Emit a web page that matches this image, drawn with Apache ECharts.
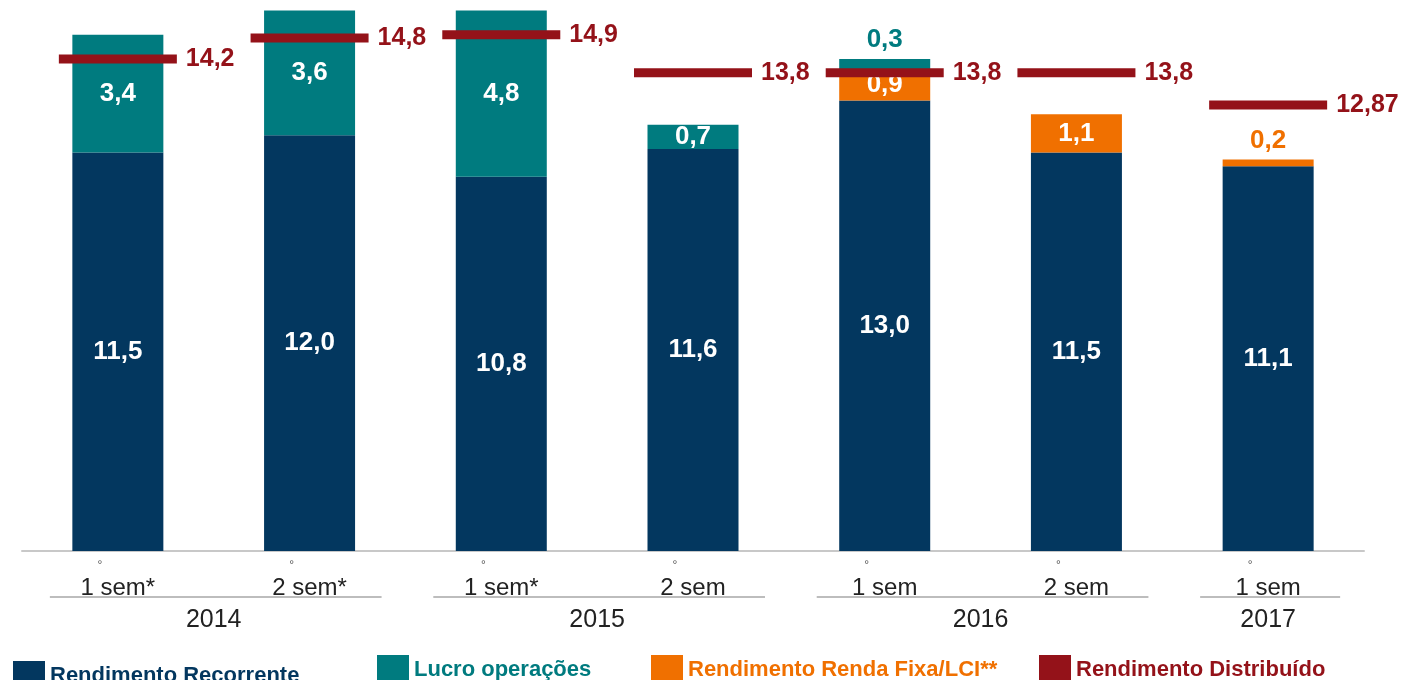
<!DOCTYPE html>
<html>
<head>
<meta charset="utf-8">
<script src="https://cdn.jsdelivr.net/npm/echarts@6/dist/echarts.min.js"></script>
<style>
  html, body { margin: 0; padding: 0; background: #fff; }
  #main { width: 1408px; height: 680px; }
</style>
</head>
<body>
<div id="main"></div>
<script>
// dados
var categorias = ['1 sem*', '2 sem*', '1 sem*', '2 sem', '1 sem', '2 sem', '1 sem'];
var recorrente = [11.5, 12.0, 10.8, 11.6, 13.0, 11.5, 11.1];
var lucro = [3.4, 3.6, 4.8, 0.7, 0.3, null, null];
var rendaFixa = [null, null, null, null, 0.9, 1.1, 0.2];
var distribuido = [14.2, 14.8, 14.9, 13.8, 13.8, 13.8, 12.87];
var anos = ['2014', '2015', '2016', '2017'];
var anoInicio = [0, 2, 4, 6];
var anoFim = [1, 3, 5, 6];

var AZUL = '#03375f', VERDE = '#007b7f', LARANJA = '#f07000', VERMELHO = '#941219';
var FONTE = '"Liberation Sans", Arial, sans-serif';

function fmt(v) { return v.toFixed(1).replace('.', ','); }

// segmentos pequenos levam o rótulo por cima, na cor da série
function itens(arr, cor) {
    return arr.map(function (v) {
        if (v != null && v < 0.5) {
            return { value: v, label: { position: 'top', color: cor, distance: 6 } };
        }
        return v;
    });
}

var rotuloBarra = {
    show: true,
    position: 'inside',
    color: '#fff',
    fontFamily: FONTE,
    fontWeight: 'bold',
    fontSize: 26,
    formatter: function (p) { return fmt(p.value); }
};

function legenda(nome, cor, left, top) {
    return {
        data: [nome],
        left: left,
        top: top,
        icon: 'rect',
        itemWidth: 32,
        itemHeight: 30,
        selectedMode: false,
        textStyle: { color: cor, fontFamily: FONTE, fontWeight: 'bold', fontSize: 22 }
    };
}

var myChart = echarts.init(document.getElementById('main'));

var option = {
    animation: false,
    grid: { left: 22, right: 44, top: 0, bottom: 129 },
    legend: [
        legenda('Rendimento Recorrente', AZUL, 8, 656),
        legenda('Lucro operações', VERDE, 372, 650),
        legenda('Rendimento Renda Fixa/LCI**', LARANJA, 646, 650),
        legenda('Rendimento Distribuído', VERMELHO, 1034, 650)
    ],
    xAxis: {
        type: 'category',
        data: categorias,
        axisLine: { lineStyle: { color: '#c8c8c8', width: 2 } },
        axisTick: { show: false },
        axisLabel: {
            margin: 6,
            formatter: function (v) { return '{d|°}\n{s|' + v + '}'; },
            rich: {
                d: { fontSize: 12, lineHeight: 18, color: '#555', padding: [0, 36, 0, 0], fontFamily: FONTE },
                s: { fontSize: 24, lineHeight: 26, color: '#222', fontFamily: FONTE }
            }
        }
    },
    yAxis: { type: 'value', min: 0, max: 15.9, show: false },
    series: [
        {
            name: 'Rendimento Recorrente',
            type: 'bar',
            stack: 'total',
            barWidth: 91,
            itemStyle: { color: AZUL },
            label: rotuloBarra,
            data: recorrente
        },
        {
            name: 'Rendimento Renda Fixa/LCI**',
            type: 'bar',
            stack: 'total',
            barWidth: 91,
            itemStyle: { color: LARANJA },
            label: rotuloBarra,
            data: itens(rendaFixa, LARANJA)
        },
        {
            name: 'Lucro operações',
            type: 'bar',
            stack: 'total',
            barWidth: 91,
            itemStyle: { color: VERDE },
            label: rotuloBarra,
            data: itens(lucro, VERDE)
        },
        {
            name: 'Rendimento Distribuído',
            type: 'scatter',
            symbol: 'rect',
            symbolSize: [118, 9],
            z: 5,
            itemStyle: { color: VERMELHO, opacity: 1 },
            label: {
                show: true,
                position: 'right',
                distance: 9,
                color: VERMELHO,
                fontFamily: FONTE,
                fontWeight: 'bold',
                fontSize: 25,
                formatter: function (p) { return String(p.value).replace('.', ','); }
            },
            data: distribuido
        },
        {
            // anos e traços de agrupamento abaixo do eixo
            type: 'custom',
            silent: true,
            clip: false,
            data: anoInicio.map(function (s, i) { return [s, anoFim[i]]; }),
            renderItem: function (params, api) {
                var p0 = api.coord([api.value(0), 0]);
                var p1 = api.coord([api.value(1), 0]);
                var y = p0[1];
                return {
                    type: 'group',
                    children: [
                        {
                            type: 'line',
                            shape: { x1: p0[0] - 68, y1: y + 46, x2: p1[0] + 72, y2: y + 46 },
                            style: { stroke: '#bdbdbd', lineWidth: 2 }
                        },
                        {
                            type: 'text',
                            style: {
                                text: anos[params.dataIndex],
                                x: (p0[0] + p1[0]) / 2,
                                y: y + 69,
                                align: 'center',
                                verticalAlign: 'middle',
                                fontFamily: FONTE,
                                fontSize: 25,
                                fill: '#222'
                            }
                        }
                    ]
                };
            }
        }
    ]
};

myChart.setOption(option);
</script>
</body>
</html>
